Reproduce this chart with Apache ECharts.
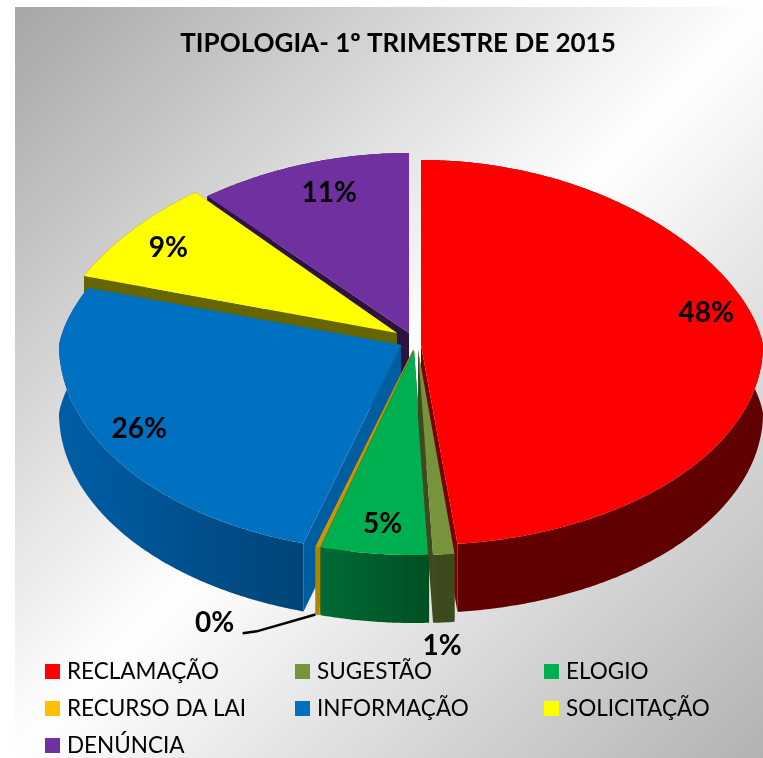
<!DOCTYPE html>
<html>
<head>
<meta charset="utf-8">
<style>html,body{margin:0;padding:0;background:#fff}#c{width:763px;height:758px}</style>
<script src="https://cdn.jsdelivr.net/npm/echarts@6/dist/echarts.min.js"></script>
</head>
<body>
<div id="c"></div>
<script>
var titleText = 'TIPOLOGIA- 1º TRIMESTRE DE 2015';
var categories = ['RECLAMAÇÃO', 'SUGESTÃO', 'ELOGIO', 'RECURSO DA LAI', 'INFORMAÇÃO', 'SOLICITAÇÃO', 'DENÚNCIA'];
var values = [48.3, 1, 5.1, 0.2, 26.2, 8.6, 10.6];
var topColors = ['#ff0000', '#77933c', '#00b050', '#c8960a', '#0070c0', '#ffff00', '#7030a0'];
var legendColors = ['#ff0000', '#77933c', '#00b050', '#ffc000', '#0070c0', '#ffff00', '#7030a0'];
var wallLeft = ['#600000', '#3d4a1e', '#006b35', '#b08400', '#005ea6', '#666600', '#2d1340'];
var wallRight = ['#600000', '#3d4a1e', '#004f22', '#b08400', '#004478', '#666600', '#2d1340'];
var faceColors = ['#7a0000', '#3d4a1e', '#004f22', '#b08400', '#005d9f', '#666600', '#2d1340'];
var drawOrder = [6, 7, 5, 4, 3, 2, 1];

// layout of the exploded, tilted pie
var apexX = [421, 418, 414, 413, 401, 397, 409];
var apexY = [345, 350, 350, 350, 345, 333, 333];
var frontRadiusY = [200, 205, 205, 205, 207, 205, 205];
var backRadiusY = [185, 185, 185, 185, 185, 185, 180];
var labelAngle = [76, 177.2, 186.2, 203.5, 242.1, 305.5, 342.5];
var labelRadius = [0.872, 1.446, 0.853, 1.454, 0.866, 0.85, 0.82];
var RX = 342, DEPTH = 68, BACK_TAPER = 0.058, BACK_POWER = 1.14;

var total = values.reduce(function (a, b) { return a + b; }, 0);

function pt(i, deg, r) {
  var t = deg * Math.PI / 180, c = Math.cos(t);
  var yFactor = c > 0 ? backRadiusY[i] * Math.pow(c, BACK_POWER) : frontRadiusY[i] * c;
  var taper = 1 - BACK_TAPER * Math.max(c, 0);
  return [apexX[i] + RX * r * taper * Math.sin(t), apexY[i] - r * yFactor];
}
function shifted(p) { return [p[0], p[1] + DEPTH]; }

function makeRender(i) {
  return function (params, api) {
    var a0 = api.value(0), a1 = api.value(1), pct = api.value(2);
    var arc = [], n = Math.max(2, Math.ceil((a1 - a0) * 2)), k;
    for (k = 0; k <= n; k++) arc.push(pt(i, a0 + (a1 - a0) * k / n, 1));
    var apex = [apexX[i], apexY[i]];
    var topPoly = [apex].concat(arc);
    var wallPoly = arc.concat(arc.map(shifted).reverse());
    var first = arc[0], last = arc[arc.length - 1];
    var face = function (p) {
      return { type: 'polygon', silent: true,
        shape: { points: [apex, p, shifted(p), shifted(apex)] },
        style: { fill: faceColors[i] } };
    };
    var lp = pt(i, labelAngle[i], labelRadius[i]);
    var children = [
      face(first), face(last),
      { type: 'polygon', silent: true, shape: { points: wallPoly },
        style: { fill: new echarts.graphic.LinearGradient(0, 0, 1, 0, [
          { offset: 0, color: wallLeft[i] }, { offset: 1, color: wallRight[i] }]) } },
      { type: 'polygon', silent: true, shape: { points: topPoly }, style: { fill: topColors[i] } },
      { type: 'text', silent: true, x: lp[0], y: lp[1], z2: 50,
        style: { text: pct + '%', fill: '#000', align: 'center', verticalAlign: 'middle',
          font: 'bold 28px Lato, "Open Sans", sans-serif' } }
    ];
    if (categories[i] === 'RECURSO DA LAI') {
      var foot = shifted(last);
      children.push({ type: 'polyline', silent: true, z2: 40,
        shape: { points: [[lp[0] + 28, lp[1] + 10], [lp[0] + 42, lp[1] + 8], foot] },
        style: { stroke: '#000', lineWidth: 2.5, fill: null } });
    }
    return { type: 'group', children: children };
  };
}

var cum = 0;
var series = categories.map(function (name, i) {
  var start = cum / total * 360;
  cum += values[i];
  var end = cum / total * 360;
  return {
    type: 'custom', name: name, coordinateSystem: 'none', silent: true,
    z: drawOrder[i] + 1, animation: false,
    itemStyle: { color: legendColors[i] },
    renderItem: makeRender(i),
    data: [[start, end, Math.round(values[i] / total * 100)]]
  };
});

function legendCol(idx, left) {
  return {
    orient: 'vertical', left: left, top: 660, height: 98, itemWidth: 15, itemHeight: 15, itemGap: 14,
    icon: 'rect', selectedMode: false, padding: 0,
    textStyle: { fontSize: 22.5, fontFamily: 'Lato, "Open Sans", sans-serif', color: '#000', padding: [0, 0, 0, 2], lineHeight: 23 },
    data: idx.map(function (i) { return { name: categories[i], icon: 'rect', itemStyle: { color: legendColors[i] } }; })
  };
}

var chart = echarts.init(document.getElementById('c'), null, { renderer: 'canvas' });
chart.setOption({
  animation: false,
  backgroundColor: '#ffffff',
  title: {
    text: titleText, left: 393, top: 26, textAlign: 'center',
    textStyle: { fontSize: 26, fontWeight: 'bold', fontFamily: 'Lato, "Open Sans", sans-serif', color: '#000' }
  },
  graphic: [{
    type: 'rect', z: -10, silent: true, shape: { x: 15, y: 7, width: 748, height: 751 },
    style: { fill: new echarts.graphic.LinearGradient(0, 0, 1, 1, [
      { offset: 0, color: '#a6a6a6' }, { offset: 0.5, color: '#ffffff' }, { offset: 1, color: '#b2b2b2' }]) }
  }],
  legend: [legendCol([0, 3, 6], 45), legendCol([1, 4], 295), legendCol([2, 5], 544)],
  series: series
});
</script>
</body>
</html>
